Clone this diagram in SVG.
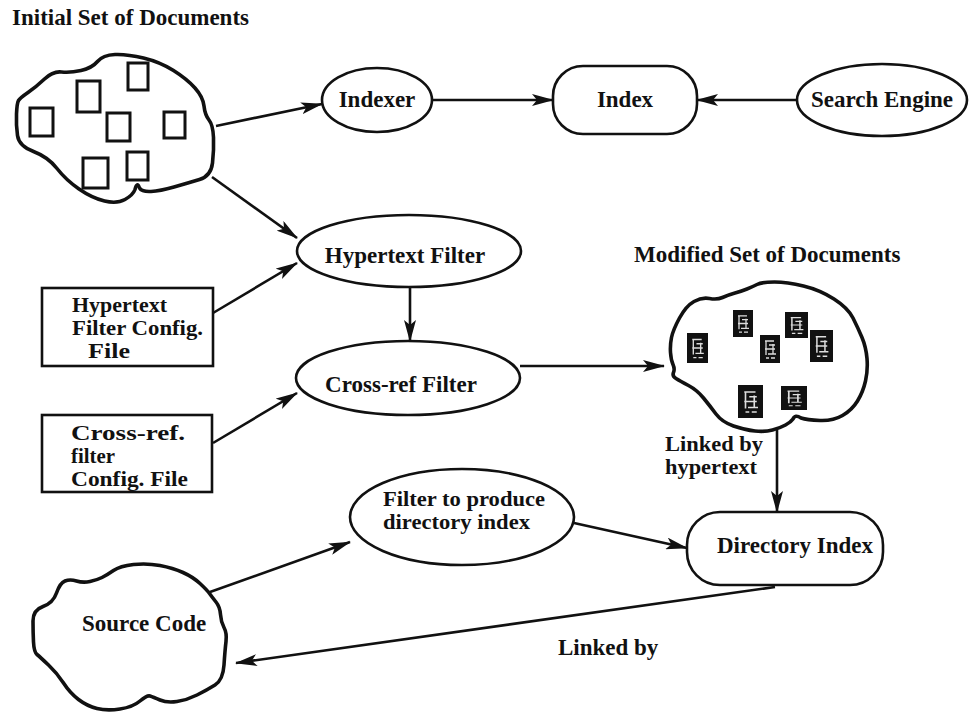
<svg xmlns="http://www.w3.org/2000/svg" width="970" height="715" viewBox="0 0 970 715">
  <style>
    .lbl { font-family: "Liberation Serif", "Times New Roman", serif; font-size: 23px; font-weight: bold; fill: #111; }
    .sm { font-size: 20px; }
    .mid { text-anchor: middle; }
    .shape { fill: #fff; stroke: #111; stroke-width: 2.6; }
    .cloud { fill: #fff; stroke: #111; stroke-width: 3.6; stroke-linejoin: round; }
    .doc { fill: none; stroke: #111; stroke-width: 3; }
    .edge { fill: none; stroke: #111; stroke-width: 2.6; marker-end: url(#arrow); }
  </style>
  <defs>
    <marker id="arrow" markerUnits="userSpaceOnUse" viewBox="0 0 22 12" refX="21" refY="6" markerWidth="22" markerHeight="12" orient="auto">
      <path d="M0,0 L22,6 L0,12 L5,6 Z" fill="#111"/>
    </marker>
    <!-- dark page with speckled white content -->
    <symbol id="page-dark" viewBox="0 0 20 28" preserveAspectRatio="none">
      <rect x="0" y="0" width="20" height="28" fill="#111"/>
      <path d="M5,6 h9 M6,6 v14 M9,10 h6 M13,9 v10 M5,14 h10 M8,19 h8 M6,23 h3 M11,23 h4" stroke="#ddd" stroke-width="1.3" fill="none"/>
    </symbol>
  </defs>

  <!-- free labels -->
  <text class="lbl" x="12" y="25">Initial Set of Documents</text>
  <text class="lbl" x="634" y="262">Modified Set of Documents</text>

  <g id="initial-docs">
    <path class="cloud" d="M 16.5,114 Q 16,125 17.5,135.5 Q 19,146 33.5,151.5 Q 48,157 57,168.5 Q 66,180 79,189 Q 92,198 104.5,201 Q 117,204 125,199.5 Q 133,195 135,189.5 Q 137,181 139.5,188 Q 142,192 151,191.5 Q 160,191 174,187 Q 188,183 199.5,179.5 Q 211,176 212.5,163 Q 214,150 213.5,137.5 Q 213,125 209,120 Q 205,115 204,106 Q 203,97 195,88 Q 187,79 173.5,70.5 Q 160,62 143.5,58 Q 127,54 115,54.5 Q 103,55 97.5,61.5 Q 92,68 81,70.5 Q 70,73 61.5,72 Q 53,71 44.5,79 Q 36,87 28,92.5 Q 20,98 18.5,100.5 Q 17,103 16.5,114 Z"/>
    <rect class="doc" x="128" y="63" width="20" height="27"/>
    <rect class="doc" x="77" y="81" width="23" height="31"/>
    <rect class="doc" x="30" y="108" width="23" height="28"/>
    <rect class="doc" x="107" y="113" width="23" height="28"/>
    <rect class="doc" x="164" y="112" width="21" height="26"/>
    <rect class="doc" x="83" y="158" width="25" height="30"/>
    <rect class="doc" x="127" y="152" width="21" height="28"/>
  </g>

  <g id="indexer">
    <ellipse class="shape" cx="377" cy="100" rx="55" ry="32"/>
    <text class="lbl mid" x="377" y="107">Indexer</text>
  </g>

  <g id="index">
    <rect class="shape" x="553" y="66" width="144" height="68" rx="30"/>
    <text class="lbl mid" x="625" y="107">Index</text>
  </g>

  <g id="search-engine">
    <ellipse class="shape" cx="882" cy="100" rx="85" ry="36"/>
    <text class="lbl mid" x="882" y="107">Search Engine</text>
  </g>

  <g id="hypertext-filter">
    <ellipse class="shape" cx="409" cy="251" rx="112" ry="36"/>
    <text class="lbl mid" x="405" y="263">Hypertext Filter</text>
  </g>

  <g id="hypertext-config">
    <rect class="shape" x="42" y="288" width="171" height="78"/>
    <text class="lbl sm" x="72" y="312" textLength="95" lengthAdjust="spacingAndGlyphs">Hypertext</text>
    <text class="lbl sm" x="72" y="335" textLength="131" lengthAdjust="spacingAndGlyphs">Filter Config.</text>
    <text class="lbl sm" x="88" y="358" textLength="42" lengthAdjust="spacingAndGlyphs">File</text>
  </g>

  <g id="crossref-filter">
    <ellipse class="shape" cx="408" cy="378" rx="112" ry="37"/>
    <text class="lbl mid" x="401" y="392">Cross-ref Filter</text>
  </g>

  <g id="crossref-config">
    <rect class="shape" x="42" y="415" width="170" height="77"/>
    <text class="lbl sm" x="71" y="440" textLength="114" lengthAdjust="spacingAndGlyphs">Cross-ref.</text>
    <text class="lbl sm" x="71" y="463" textLength="44" lengthAdjust="spacingAndGlyphs">filter</text>
    <text class="lbl sm" x="71" y="486" textLength="117" lengthAdjust="spacingAndGlyphs">Config. File</text>
  </g>

  <g id="modified-docs">
    <path class="cloud" d="M 679.5,318 Q 686,306 694,301.5 Q 702,297 709.5,298.5 Q 717,300 722.5,297.5 Q 728,295 735,293 Q 742,291 747,289 Q 752,287 757,284.5 Q 762,282 774.5,282 Q 787,282 803.5,286 Q 820,290 834,299 Q 848,308 853,318 Q 858,328 862,337.5 Q 866,347 867,358.5 Q 868,370 865.5,381 Q 863,392 857.5,401 Q 852,410 842.5,415.5 Q 833,421 820,420.5 Q 807,420 801,418 Q 795,414 793,419 Q 791,422 785.5,425 Q 780,428 772.5,430 Q 765,432 755,431 Q 745,430 733.5,426 Q 722,422 716,414 Q 710,406 703.5,398 Q 697,390 688.5,385.5 Q 680,381 676,378.5 Q 672,376 673.5,372.5 Q 675,369 673,364.5 Q 671,360 670.5,352.5 Q 670,345 671.5,337.5 Q 673,330 679.5,318 Z"/>
    <use href="#page-dark" x="733" y="310" width="20" height="27"/>
    <use href="#page-dark" x="687" y="333" width="21" height="30"/>
    <use href="#page-dark" x="785" y="312" width="23" height="26"/>
    <use href="#page-dark" x="810" y="330" width="23" height="32"/>
    <use href="#page-dark" x="760" y="335" width="20" height="28"/>
    <use href="#page-dark" x="738" y="385" width="25" height="33"/>
    <use href="#page-dark" x="781" y="386" width="26" height="24"/>
  </g>

  <g id="dir-filter">
    <ellipse class="shape" cx="462" cy="517" rx="112" ry="48"/>
    <text class="lbl sm" x="383" y="506" textLength="162" lengthAdjust="spacingAndGlyphs">Filter to produce</text>
    <text class="lbl sm" x="383" y="529" textLength="147" lengthAdjust="spacingAndGlyphs">directory index</text>
  </g>

  <g id="directory-index">
    <rect class="shape" x="687" y="512" width="196" height="73" rx="33"/>
    <text class="lbl" x="717" y="553">Directory Index</text>
  </g>

  <g id="source-code">
    <path class="cloud" d="M 33,621 Q 33,632 33.5,642 Q 34,652 37,654.5 Q 40,657 48.5,665 Q 57,673 63.5,683 Q 70,693 78.5,699.5 Q 87,706 97,708.5 Q 107,711 120,709 Q 133,707 140,701 Q 147,695 150,696 Q 153,697 160,700 Q 167,703 177,701.5 Q 187,700 197,695 Q 207,690 215,685 Q 223,680 224,665 Q 225,650 226,641.5 Q 227,633 224,627.5 Q 221,622 220.5,614.5 Q 220,607 216,602 Q 212,597 209.5,593.5 Q 207,590 200,583.5 Q 193,577 183,572.5 Q 173,568 160,565.5 Q 147,563 133.5,564.5 Q 120,566 113.5,570.5 Q 107,575 102,577.5 Q 97,580 90,581.5 Q 83,583 76.5,581 Q 70,579 65,581 Q 60,583 56.5,593 Q 53,603 43,606.5 Q 33,610 33,621 Z"/>
    <text class="lbl" x="82" y="631">Source Code</text>
  </g>

  <!-- edge labels -->
  <text class="lbl sm" x="665" y="451" textLength="98" lengthAdjust="spacingAndGlyphs">Linked by</text>
  <text class="lbl sm" x="665" y="474" textLength="92" lengthAdjust="spacingAndGlyphs">hypertext</text>
  <text class="lbl" x="558" y="655">Linked by</text>

  <g id="connectors">
    <path class="edge" d="M216,126 L322,104"/>
    <path class="edge" d="M432,100 L553,100"/>
    <path class="edge" d="M797,100 L697,100"/>
    <path class="edge" d="M212,177 L297,238"/>
    <path class="edge" d="M213,313 L297,263"/>
    <path class="edge" d="M410,287 L410,341"/>
    <path class="edge" d="M213,443 L297,393"/>
    <path class="edge" d="M520,366 L664,366"/>
    <path class="edge" d="M777,430 L777,512"/>
    <path class="edge" d="M210,592 L350,542"/>
    <path class="edge" d="M574,523 L687,548"/>
    <path class="edge" d="M775,587 L236,663"/>
  </g>
</svg>
